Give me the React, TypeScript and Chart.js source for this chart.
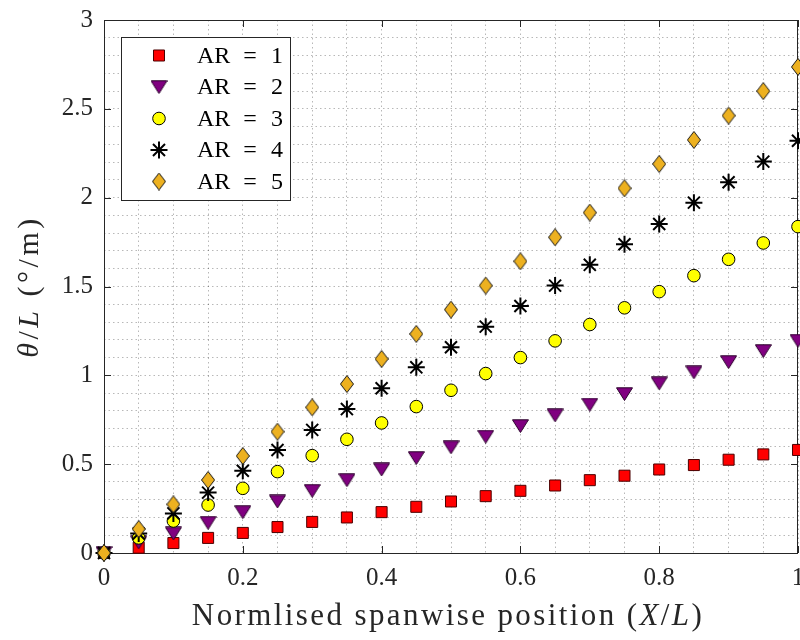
import React, { useEffect, useRef } from "react";
import { Chart, registerables } from "chart.js";
import { drawPoint } from "chart.js/helpers";

Chart.register(...registerables);

const xPositions = [0, 0.05, 0.1, 0.15, 0.2, 0.25, 0.3, 0.35, 0.4, 0.45, 0.5, 0.55, 0.6, 0.65, 0.7, 0.75, 0.8, 0.85, 0.9, 0.95, 1.0];
const ar1 = [0, 0.03, 0.056, 0.085, 0.113, 0.146, 0.175, 0.2, 0.23, 0.26, 0.29, 0.32, 0.35, 0.38, 0.41, 0.435, 0.47, 0.495, 0.525, 0.555, 0.58];
const ar2 = [0, 0.06, 0.11, 0.17, 0.23, 0.29, 0.35, 0.41, 0.47, 0.535, 0.595, 0.655, 0.715, 0.775, 0.835, 0.895, 0.955, 1.017, 1.075, 1.137, 1.195];
const ar3 = [0, 0.085, 0.18, 0.27, 0.364, 0.458, 0.548, 0.64, 0.732, 0.824, 0.916, 1.01, 1.1, 1.194, 1.286, 1.38, 1.471, 1.561, 1.653, 1.745, 1.837];
const ar4 = [0, 0.11, 0.223, 0.34, 0.463, 0.58, 0.693, 0.81, 0.927, 1.045, 1.158, 1.274, 1.39, 1.505, 1.622, 1.738, 1.852, 1.972, 2.087, 2.203, 2.32];
const ar5 = [0, 0.135, 0.274, 0.411, 0.546, 0.683, 0.82, 0.951, 1.092, 1.233, 1.37, 1.505, 1.642, 1.777, 1.916, 2.053, 2.19, 2.325, 2.462, 2.6, 2.736];
const seriesLabels = ["AR = 1", "AR = 2", "AR = 3", "AR = 4", "AR = 5"];
const xTickLabels = ["0", "0.2", "0.4", "0.6", "0.8", "1"];
const yTickLabels = ["0", "0.5", "1", "1.5", "2", "2.5", "3"];

const SERIF = "'Liberation Serif', 'Times New Roman', serif";
const AXIS_COLOR = "#262626";
const GRID_COLOR = "rgba(0,0,0,0.28)";

function makeDiamond(): HTMLCanvasElement {
  const c = document.createElement("canvas");
  c.width = 14;
  c.height = 18;
  const g = c.getContext("2d")!;
  g.beginPath();
  g.moveTo(7, 0.5);
  g.lineTo(13.5, 9);
  g.lineTo(7, 17.5);
  g.lineTo(0.5, 9);
  g.closePath();
  g.fillStyle = "#EDB120";
  g.fill();
  g.lineWidth = 1;
  g.strokeStyle = "#1a1a1a";
  g.stroke();
  return c;
}

function makeTriangle(): HTMLCanvasElement {
  const c = document.createElement("canvas");
  c.width = 17;
  c.height = 14;
  const g = c.getContext("2d")!;
  g.beginPath();
  g.moveTo(0.5, 0.8);
  g.lineTo(16.5, 0.8);
  g.lineTo(8.5, 13.5);
  g.closePath();
  g.fillStyle = "#800080";
  g.fill();
  g.lineWidth = 1;
  g.strokeStyle = "#2a002a";
  g.stroke();
  return c;
}

type Seg = { t: string; italic?: boolean };

function drawSegs(ctx: CanvasRenderingContext2D, segs: Seg[], size: number, spacing: number) {
  const c: any = ctx;
  c.letterSpacing = `${spacing}px`;
  let total = 0;
  const widths: number[] = [];
  for (const s of segs) {
    ctx.font = `${s.italic ? "italic " : ""}${size}px ${SERIF}`;
    const w = ctx.measureText(s.t).width;
    widths.push(w);
    total += w;
  }
  let x = -total / 2;
  segs.forEach((s, i) => {
    ctx.font = `${s.italic ? "italic " : ""}${size}px ${SERIF}`;
    ctx.fillText(s.t, x, 0);
    x += widths[i];
  });
  c.letterSpacing = "0px";
}

export default function App() {
  const ref = useRef<HTMLCanvasElement | null>(null);

  useEffect(() => {
    if (!ref.current) return;
    const diamond = makeDiamond();
    const triangle = makeTriangle();

    const styles: any[] = [
      { pointStyle: "rect", radius: 7.8, bg: "#FF0000", border: "#4a0000", bw: 1 },
      { pointStyle: triangle, radius: 8, bg: "#800080", border: "#2a002a", bw: 1 },
      { pointStyle: "circle", radius: 6.3, bg: "#FFFF00", border: "#000000", bw: 1 },
      { pointStyle: "star", radius: 8.5, bg: "#000000", border: "#000000", bw: 2 },
      { pointStyle: diamond, radius: 8, bg: "#EDB120", border: "#000000", bw: 1 },
    ];
    const allSeries = [ar1, ar2, ar3, ar4, ar5];

    const datasets = allSeries.map((vals, i) => ({
      label: seriesLabels[i],
      data: xPositions.map((x, j) => ({ x, y: vals[j] })),
      showLine: false,
      pointStyle: styles[i].pointStyle,
      pointRadius: styles[i].radius,
      pointHoverRadius: styles[i].radius,
      pointBackgroundColor: styles[i].bg,
      pointBorderColor: styles[i].border,
      pointBorderWidth: styles[i].bw,
      clip: false as any,
      order: 4 - i,
    }));

    const frame = {
      id: "frame",
      beforeDatasetsDraw(chart: any) {
        const { ctx, chartArea: a, scales } = chart;
        ctx.save();
        ctx.strokeStyle = AXIS_COLOR;
        ctx.lineWidth = 1;
        const tl = 7;
        ctx.beginPath();
        xTickLabels.forEach((lab) => {
          const px = Math.round(scales.x.getPixelForValue(parseFloat(lab))) + 0.5;
          ctx.moveTo(px, a.bottom);
          ctx.lineTo(px, a.bottom - tl);
          ctx.moveTo(px, a.top);
          ctx.lineTo(px, a.top + tl);
        });
        yTickLabels.forEach((lab) => {
          const py = Math.round(scales.y.getPixelForValue(parseFloat(lab))) + 0.5;
          ctx.moveTo(a.left, py);
          ctx.lineTo(a.left + tl, py);
          ctx.moveTo(a.right, py);
          ctx.lineTo(a.right - tl, py);
        });
        ctx.stroke();
        ctx.strokeRect(Math.round(a.left) + 0.5, Math.round(a.top) + 0.5, Math.round(a.right - a.left) - 1, Math.round(a.bottom - a.top));
        ctx.restore();
      },
      afterDraw(chart: any) {
        const { ctx, chartArea: a } = chart;
        ctx.save();
        ctx.fillStyle = AXIS_COLOR;
        ctx.textBaseline = "middle";
        // x title
        ctx.save();
        ctx.translate(448, 617);
        drawSegs(ctx, [
          { t: "Normlised spanwise position (" },
          { t: "X", italic: true },
          { t: "/" },
          { t: "L", italic: true },
          { t: ")" },
        ], 31, 2.4);
        ctx.restore();
        // y title
        ctx.save();
        ctx.translate(30, (a.top + a.bottom) / 2);
        ctx.rotate(-Math.PI / 2);
        drawSegs(ctx, [
          { t: "\u03B8", italic: true },
          { t: "/" },
          { t: "L", italic: true },
          { t: " (\u00B0/m)" },
        ], 30, 3.5);
        ctx.restore();

        // legend
        const lx = 121.5, ly = 37.5, lw = 169, lh = 163;
        ctx.fillStyle = "#ffffff";
        ctx.fillRect(lx, ly, lw, lh);
        ctx.strokeStyle = AXIS_COLOR;
        ctx.lineWidth = 1;
        ctx.strokeRect(lx, ly, lw, lh);
        seriesLabels.forEach((lab, i) => {
          const cy = 55.5 + i * 31.5;
          const st = styles[i];
          ctx.save();
          ctx.fillStyle = st.bg;
          ctx.strokeStyle = st.border;
          ctx.lineWidth = st.bw;
          drawPoint(ctx, { pointStyle: st.pointStyle, rotation: 0, borderWidth: st.bw, radius: st.radius }, 159, cy);
          ctx.restore();
          ctx.fillStyle = "#000000";
          ctx.font = `24px ${SERIF}`;
          ctx.textBaseline = "middle";
          const parts = lab.split(" ");
          ctx.textAlign = "left";
          ctx.fillText(parts[0], 197, cy + 1);
          ctx.textAlign = "center";
          ctx.fillText(parts[1], 250, cy + 1);
          ctx.fillText(parts[2], 277, cy + 1);
        });
        ctx.restore();
      },
    };

    const chart = new Chart(ref.current, {
      type: "scatter",
      data: { datasets },
      plugins: [frame],
      options: {
        animation: false,
        responsive: false,
        events: [],
        layout: { autoPadding: false, padding: { left: 0, top: 20, right: 2, bottom: 0 } },
        plugins: { legend: { display: false }, tooltip: { enabled: false } },
        scales: {
          x: {
            type: "linear",
            min: 0,
            max: 1,
            afterFit: (s: any) => { s.height = 87; s.paddingLeft = 0; s.paddingRight = 0; },
            border: { display: false, dash: [1.5, 3] },
            grid: {
              color: GRID_COLOR,
              lineWidth: 1,
              drawTicks: false,
            },
            ticks: {
              stepSize: 0.05,
              autoSkip: false,
              maxRotation: 0,
              padding: 10,
              color: AXIS_COLOR,
              font: { family: SERIF, size: 25 },
              callback: (v: any) => {
                const k = Math.round(Number(v) * 20);
                if (k % 4 !== 0) return "";
                const lab = xTickLabels.find((t) => Math.round(parseFloat(t) * 20) === k);
                return lab ?? "";
              },
            },
          },
          y: {
            type: "linear",
            min: 0,
            max: 3,
            afterFit: (s: any) => { s.width = 104; s.paddingTop = 0; s.paddingBottom = 0; },
            border: { display: false, dash: [1.5, 3] },
            grid: {
              color: GRID_COLOR,
              lineWidth: 1,
              drawTicks: false,
            },
            ticks: {
              stepSize: 0.1,
              autoSkip: false,
              padding: 11,
              color: AXIS_COLOR,
              font: { family: SERIF, size: 25 },
              callback: (v: any) => {
                const k = Math.round(Number(v) * 10);
                if (k % 5 !== 0) return "";
                const lab = yTickLabels.find((t) => Math.round(parseFloat(t) * 10) === k);
                return lab ?? "";
              },
            },
          },
        },
      } as any,
    });

    return () => chart.destroy();
  }, []);

  return (
    <div style={{ position: "absolute", left: 0, top: 0, width: 800, height: 640, background: "#fff" }}>
      <canvas ref={ref} width={800} height={640} style={{ width: 800, height: 640, display: "block" }} />
    </div>
  );
}
